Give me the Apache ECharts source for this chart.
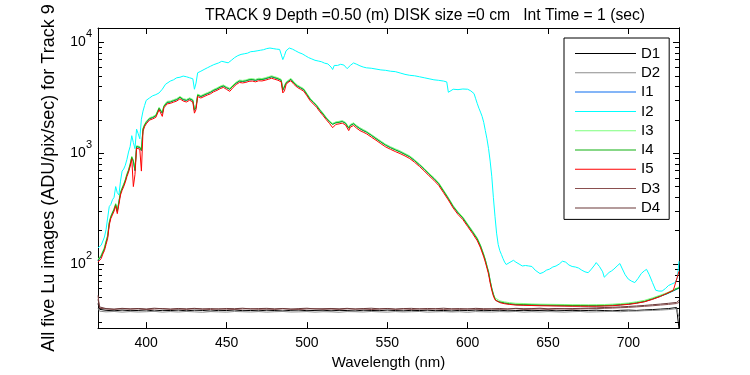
<!DOCTYPE html>
<html>
<head>
<meta charset="UTF-8">
<title>Track 9 Lu images</title>
<style>
  html, body { margin: 0; padding: 0; background: #fff; }
  #main { width: 750px; height: 375px; }
</style>
</head>
<body>
<div id="main"></div>
<script src="https://cdn.jsdelivr.net/npm/echarts@6/dist/echarts.min.js"></script>
<script>
// wavelengths (nm) for the four nearly identical light curves I1, I3, I4, I5
var wlMain = [
  370,371,372,373,374,375,376,377,378,379,
  380,381,382,383,384,385,386,387,388,389,
  390,391,392,393,394,395,396,397,398,399,
  400,402,404,406,407,408,409,410,411,413,
  415,417,419,421,423,425,427,429,430,431,
  432,434,436,438,440,442,444,446,448,450,
  452,454,456,458,460,462,464,466,468,470,
  472,474,476,478,480,482,484,485,486,487,
  488,490,492,494,496,498,500,502,504,506,
  508,510,512,514,516,517,518,520,522,524,
  526,527,529,531,533,535,537,540,543,546,
  549,552,555,558,561,564,567,570,573,576,
  579,582,585,588,591,594,597,600,603,606,
  608,610,611,612,613,614,615,616,617,618,
  620,623,626,630,635,640,645,650,655,660,
  665,670,675,680,685,690,695,700,705,710,
  715,720,724,728,731.5
];
var i1 = [
  107,111,117,127,137,157,176,233,266,274,
  310,343,298,290,437,477,517,566,636,696,
  785,915,845,695,1145,1175,1125,1055,1645,1795,
  1895,2045,2095,2175,2245,2545,2595,2295,2645,2875,
  2895,2975,3045,3195,3045,2995,3095,2995,2445,2595,
  3345,3245,3345,3445,3545,3695,3795,3945,4045,3895,
  3775,4045,4295,4475,4445,4495,4595,4615,4545,4645,
  4625,4695,4795,4895,4795,4695,4545,3695,3795,4295,
  4475,4645,4295,4045,3895,3745,3395,3080,2880,2690,
  2460,2270,2080,1935,1835,1770,1890,1915,1945,1870,
  1690,1790,1850,1750,1670,1610,1560,1460,1360,1270,
  1190,1128,1078,1032,982,932,860,790,720,650,
  594,533,458,392,332,291,261,226,196,169,
  146,121,108.5,95.5,84.5,70.5,60.5,53.2,48.6,46.4,
  45.3,44.2,43.5,42.9,42.7,42.5,42.3,42.2,42.1,42,
  41.9,41.9,41.9,41.9,42,42.3,42.8,43.4,44.4,45.8,
  48.2,51.2,53.8,57.2,60.5
];
var i3 = [
  110,114,121,131,142,162,183,240,272,280,
  318,352,308,298,448,490,530,582,655,715,
  805,940,870,720,1170,1200,1150,1080,1680,1830,
  1940,2090,2140,2220,2300,2600,2660,2350,2700,2940,
  2960,3040,3110,3260,3110,3060,3160,3060,2500,2660,
  3420,3310,3420,3520,3620,3770,3880,4030,4130,3980,
  3860,4130,4390,4570,4540,4590,4690,4720,4640,4750,
  4720,4800,4900,5000,4900,4800,4650,3780,3880,4390,
  4570,4750,4390,4130,3980,3830,3470,3140,2930,2740,
  2500,2310,2110,1960,1860,1800,1920,1940,1970,1900,
  1720,1820,1880,1780,1700,1640,1580,1480,1380,1290,
  1205,1145,1095,1050,995,945,875,800,730,660,
  603,542,465,398,337,296,266,230,200,172,
  148,123,110,97,86,71.5,61,54,49.5,47.5,
  46.5,45.5,44.8,44.2,44,43.6,43.4,43.3,43.2,43.1,
  43,43,42.9,43,43.1,43.4,43.9,44.5,45.6,47,
  49.5,52.5,55,58.5,62
];
var i4 = [
  108,112,118,128,138,158,178,235,268,276,
  312,345,300,292,440,480,520,570,640,700,
  790,920,850,700,1150,1180,1130,1060,1650,1800,
  1900,2050,2100,2180,2250,2550,2600,2300,2650,2880,
  2900,2980,3050,3200,3050,3000,3100,3000,2450,2600,
  3350,3250,3350,3450,3550,3700,3800,3950,4050,3900,
  3780,4050,4300,4480,4450,4500,4600,4620,4550,4650,
  4630,4700,4800,4900,4800,4700,4550,3700,3800,4300,
  4480,4650,4300,4050,3900,3750,3400,3070,2870,2680,
  2450,2260,2070,1920,1820,1760,1880,1900,1930,1860,
  1680,1780,1840,1740,1660,1600,1550,1450,1350,1260,
  1180,1120,1070,1025,975,925,855,785,715,645,
  590,530,455,390,330,290,260,225,195,168,
  145,120,108,95,84,70,60,53,48.5,46.5,
  45.5,44.5,43.8,43.2,43,42.8,42.6,42.5,42.4,42.3,
  42.2,42.2,42.1,42.1,42.2,42.5,43,43.6,44.6,46,
  48.5,51.5,54,57.5,61
];
var i5 = [
  104,106,112,123,132,150,170,225,258,268,
  300,335,285,276,420,462,500,548,615,675,
  760,890,500,640,1110,1140,1090,690,1580,1740,
  1840,1990,2040,2110,2180,2470,2520,2150,2570,2790,
  2820,2890,2960,3100,2960,2900,3010,2900,2300,2480,
  3250,3150,3250,3350,3440,3590,3690,3830,3930,3770,
  3620,3920,4170,4350,4310,4360,4460,4480,4410,4510,
  4490,4560,4650,4750,4650,4560,4400,3500,3650,4150,
  4340,4510,4170,3930,3780,3630,3300,2980,2780,2600,
  2370,2190,2010,1860,1700,1690,1820,1840,1870,1800,
  1600,1720,1780,1680,1600,1550,1500,1400,1310,1220,
  1140,1085,1035,992,945,895,828,760,692,625,
  570,512,440,378,320,280,252,218,189,162,
  140,116,104,92,81,67.5,58,51.5,47.5,45.8,
  44.8,43.8,43.2,42.6,42.4,42.2,42,41.9,41.8,41.7,
  41.6,41.6,41.6,41.6,41.8,42,42.6,43.2,44.2,45.6,
  48,51,54.5,58,86
];

// I2 (the bright cyan one) has its own wavelength list
var wlI2 = [
  370,371,372,373,374,375,376,377,378,379,
  380,381,382,383,384,385,386,387,388,389,
  390,391,392,393,394,395,396,397,398,399,
  400,402,404,406,408,410,412,413,415,417,
  419,421,423,425,427,429,430,431,432,434,
  436,438,440,442,445,447,449,451,453,455,
  457,459,461,463,465,467,469,471,473,475,
  477,479,481,483,484,485,486,487,489,491,
  493,495,497,499,501,503,505,507,509,511,
  513,515,516,517,519,521,523,525,526,527,
  529,531,533,535,537,540,543,546,549,552,
  555,558,561,564,567,570,573,576,579,582,
  585,587,588,589,591,594,597,600,602,604,
  605,606,607,608,609,610,611,612,613,614,
  615,616,617,618,619,620,621,622,623,624,
  625,627,628.5,630,632,634,636,638,640,642,
  645,647,649,651,653,655,657,659,661,663,
  665,667,669,671,673,675,677,679,680,682,
  684,685,686,688,689.5,691,693,694.7,696,698,
  700,702,704,706,708,710,711.3,713,715,717,
  719,721,723,725,727,729,730.5,731.5
];
var i2 = [
  140,145,148,150,175,204,260,330,345,380,
  400,500,440,420,560,690,720,780,880,1025,
  1150,1440,1250,1100,1650,1500,1350,2030,2400,2700,
  3000,3150,3300,3380,3500,3780,4190,4100,4480,4600,
  4800,4850,4970,4900,4800,4700,3780,4300,5320,5500,
  5700,5900,6100,6300,6530,6760,6650,6550,6900,7300,
  7600,7800,7900,8000,8250,8300,8400,8500,8600,8800,
  8900,8800,8700,8650,8600,7000,7600,8400,8900,8700,
  8400,8100,7900,7600,7300,7100,6900,6800,6700,6500,
  6400,6000,5700,6200,6200,6350,6250,5800,5700,6200,
  6530,6350,6150,6000,5900,5850,5750,5650,5600,5500,
  5450,5300,5150,5050,5000,4900,4800,4700,4600,4550,
  4480,4400,3550,3700,3780,3750,3800,3780,3650,3450,
  3100,2800,2550,2350,2150,1900,1600,1350,1100,850,
  620,400,270,190,150,132,122,112,104,99,
  100,105,108,104,100,96,97,96,95,88,
  82,84,88,90,94,96,100,106,104,98,
  95,94,92,88,85,83.5,90,98,103,95,
  85,76,78,84,86.5,90,96,101,92,80,
  73,70,68,74,82,87,89.5,80,68,58,
  57,57,60,64,66,68,75,106
];

// dark frames
var wlDark = [
  370,371,375,380,385,390,395,400,405,410,
  415,420,425,430,435,440,445,450,455,460,
  465,470,475,480,485,490,495,500,505,510,
  515,520,525,530,535,540,545,550,555,560,
  565,570,575,580,585,590,595,600,605,610,
  615,620,625,630,635,640,645,650,655,660,
  665,670,675,680,685,690,695,700,705,710,
  715,720,725,730,731.5
];
var d1 = [
  44,39,38.2,37.8,38.4,37.9,38.1,38.5,37.7,38.2,
  38.0,38.4,37.8,38.3,38.1,37.6,38.2,38.0,38.5,37.9,
  38.1,37.8,38.3,38.0,37.7,38.2,38.4,37.9,38.1,38.3,
  37.8,38.2,38.0,37.7,38.3,38.1,37.9,38.4,38.0,37.8,
  38.2,38.0,38.3,37.9,38.1,37.7,38.2,38.0,38.4,37.9,
  38.1,38.3,37.8,38.0,38.2,37.9,38.1,38.3,37.8,38.0,
  38.2,37.9,38.1,38.3,38.0,37.8,38.2,38.4,38.1,38.5,
  38.8,39.2,39.6,40.5,26
];
var d2 = [
  40,37.5,37.0,37.3,36.8,37.2,36.9,37.1,37.4,36.8,
  37.2,36.9,37.3,37.0,36.7,37.2,37.0,36.8,37.3,37.1,
  36.9,37.2,36.8,37.1,37.3,36.9,37.0,37.2,36.8,37.1,
  37.0,36.7,37.2,37.1,36.9,37.3,37.0,36.8,37.2,36.9,
  37.1,37.3,36.8,37.0,37.2,36.9,37.1,36.7,37.2,37.0,
  36.9,37.2,37.0,37.3,36.8,37.1,36.9,37.2,37.0,36.8,
  37.1,37.3,36.9,37.0,37.2,37.4,37.1,37.5,37.6,37.9,
  38.1,38.4,38.8,39.5,33
];
var d3 = [
  52,40,39.3,38.9,39.5,39.1,39.4,38.8,39.2,39.6,
  39.0,39.3,38.9,39.5,39.2,38.8,39.4,39.1,38.9,39.3,
  39.5,39.0,39.2,38.9,39.4,39.1,38.8,39.3,39.5,39.0,
  39.2,38.9,39.4,39.1,39.3,38.8,39.2,39.5,39.0,39.3,
  38.9,39.4,39.1,39.3,38.9,39.2,39.0,39.4,39.1,38.9,
  39.3,39.0,39.2,39.5,38.9,39.1,39.3,39.0,39.2,39.4,
  39.1,39.3,39.5,39.6,39.8,40.0,40.3,40.6,41.0,41.5,
  42.0,42.6,43.2,44,45
];
var d4 = [
  48,41,39.6,39.2,39.8,39.4,39.7,39.3,39.9,39.5,
  39.2,39.7,39.4,39.8,39.3,39.6,39.2,39.7,39.5,39.9,
  39.3,39.6,39.8,39.4,39.7,39.2,39.6,39.9,39.3,39.5,
  39.7,39.4,39.8,39.3,39.6,39.9,39.4,39.7,39.2,39.6,
  39.8,39.3,39.7,39.5,39.9,39.4,39.6,39.2,39.8,39.5,
  39.4,39.7,39.3,39.8,39.5,39.6,39.9,39.4,39.7,39.5,
  39.6,39.8,40.0,40.2,40.5,40.7,41.0,41.4,41.8,42.3,
  42.9,43.5,44.2,45,47
];

var xTicks = [400, 450, 500, 550, 600, 650, 700];
var yMajor = [100, 1000, 10000];
var yMinor = [30,40,50,60,70,80,90,200,300,400,500,600,700,800,900,
              2000,3000,4000,5000,6000,7000,8000,9000];

var names = ['D1','D2','I1','I2','I3','I4','I5','D3','D4'];
var colors = ['#000000','#8c8c8c','#0a6cf0','#00ffff','#7dff7d','#10b010','#ff0000','#8a4f4f','#6b3838'];

var FONT = '"Liberation Sans", Arial, sans-serif';

function pairs(wl, v) {
  return wl.map(function (x, i) { return [x, v[i]]; });
}

var seriesData = [
  pairs(wlDark, d1), pairs(wlDark, d2),
  pairs(wlMain, i1), pairs(wlI2, i2), pairs(wlMain, i3), pairs(wlMain, i4), pairs(wlMain, i5),
  pairs(wlDark, d3), pairs(wlDark, d4)
];

var myChart = echarts.init(document.getElementById('main'));

function yAxisOf(pos, ticks, len, labels) {
  return {
    type: 'log',
    logBase: 10,
    min: 26.4,
    max: 13500,
    position: pos,
    axisLine: { show: labels === true || pos === 'right', lineStyle: { color: '#000', width: 1 } },
    axisTick: { inside: true, length: len, customValues: ticks, lineStyle: { color: '#000' } },
    axisLabel: labels ? {
      customValues: yMajor,
      margin: 6,
      formatter: function (v) {
        return '{b|10}{e|' + Math.round(Math.log(v) / Math.LN10) + '}';
      },
      rich: {
        b: { fontSize: 14, fontFamily: FONT, color: '#000' },
        e: { fontSize: 11, fontFamily: FONT, color: '#000', padding: [0, 0, 17, 0] }
      }
    } : { show: false },
    splitLine: { show: false },
    minorTick: { show: false },
    name: labels ? 'All five Lu images (ADU/pix/sec) for Track 9' : '',
    nameLocation: 'middle',
    nameGap: 40,
    nameTextStyle: { fontSize: 18, fontFamily: FONT, color: '#000' }
  };
}

myChart.setOption({
  animation: false,
  backgroundColor: '#fff',
  color: colors,
  title: {
    text: 'TRACK 9 Depth =0.50 (m) DISK size =0 cm   Int Time = 1 (sec)',
    left: 420,
    textAlign: 'center',
    top: 3,
    textStyle: { fontSize: 15.7, fontWeight: 'normal', fontFamily: FONT, color: '#000' }
  },
  legend: {
    data: names.map(function (n, k) {
      return { name: n, itemStyle: { color: colors[k], borderWidth: 0, opacity: 1 } };
    }),
    orient: 'vertical',
    left: 564,
    top: 38,
    icon: 'rect',
    itemWidth: 61,
    itemHeight: 1,
    itemGap: 4.3,
    padding: [8, 9, 4, 11],
    borderColor: '#000',
    borderWidth: 1,
    backgroundColor: '#fff',
    selectedMode: false,
    itemStyle: { borderWidth: 0 },
    textStyle: { fontSize: 15, fontFamily: FONT, color: '#000' }
  },
  grid: { left: 98, right: 71, top: 28, bottom: 44 },
  xAxis: [{
    type: 'value',
    min: 370,
    max: 731.5,
    position: 'bottom',
    axisLine: { lineStyle: { color: '#000', width: 1 } },
    axisTick: { inside: true, length: 6, customValues: xTicks, lineStyle: { color: '#000' } },
    axisLabel: { customValues: xTicks, margin: 8, fontSize: 14, fontFamily: FONT, color: '#000' },
    splitLine: { show: false },
    name: 'Wavelength (nm)',
    nameLocation: 'middle',
    nameGap: 25,
    nameTextStyle: { fontSize: 15, fontFamily: FONT, color: '#000' }
  }, {
    type: 'value',
    min: 370,
    max: 731.5,
    position: 'top',
    axisLine: { lineStyle: { color: '#000', width: 1 } },
    axisTick: { inside: true, length: 6, customValues: xTicks, lineStyle: { color: '#000' } },
    axisLabel: { show: false },
    splitLine: { show: false }
  }],
  yAxis: [
    yAxisOf('left', yMajor, 6, true),
    yAxisOf('left', yMinor, 4, false),
    yAxisOf('right', yMajor, 6, false),
    yAxisOf('right', yMinor, 4, false)
  ],
  series: names.map(function (n, k) {
    return {
      name: n,
      type: 'line',
      xAxisIndex: 0,
      yAxisIndex: 0,
      data: seriesData[k],
      symbol: 'none',
      lineStyle: { width: 1, color: colors[k] },
      itemStyle: { color: colors[k] },
      clip: true
    };
  })
});
</script>
</body>
</html>
